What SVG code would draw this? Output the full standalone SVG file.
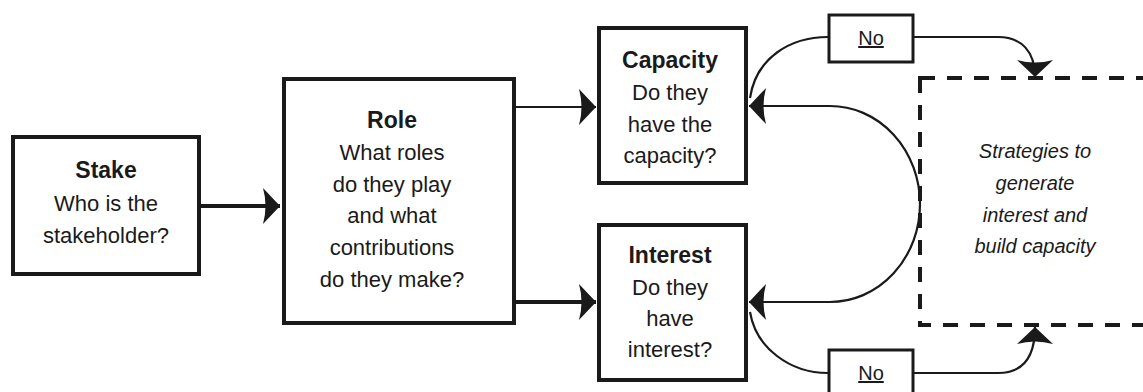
<svg xmlns="http://www.w3.org/2000/svg" width="1143" height="392" viewBox="0 0 1143 392">
<style>
.box{fill:#fff;stroke:#1a1a1a;stroke-width:4}
.nobox{fill:#fff;stroke:#1a1a1a;stroke-width:3}
.t{font-family:"Liberation Sans",Arial,sans-serif;font-size:22px;fill:#1a1a1a;text-anchor:middle}
.h{font-weight:bold;font-size:23px}
.it{font-style:italic;font-size:20px}
.no{font-size:20px;text-decoration:underline}
.ln{fill:none;stroke:#1a1a1a}
</style>
<defs>
<marker id="ah" markerUnits="userSpaceOnUse" markerWidth="22" markerHeight="42" viewBox="-19 -21 21 42" refX="0" refY="0" orient="auto-start-reverse">
<path d="M0,0 L-17,-18 Q-12,0 -17,18 Z" fill="#1a1a1a"/>
</marker>
</defs>
<g id="connectors">
<path class="ln" d="M201,206 L280,206" stroke-width="4" marker-end="url(#ah)"/>
<path class="ln" d="M516,107 L596,107" stroke-width="2.2" marker-end="url(#ah)"/>
<path class="ln" d="M516,302 L596,302" stroke-width="4" marker-end="url(#ah)"/>
<path class="ln" d="M749,106 L830,106 A90 98 0 0 1 920,204 A90 98 0 0 1 830,302 L749,302" stroke-width="2.2" marker-start="url(#ah)" marker-end="url(#ah)"/>
<path class="ln" d="M828,37 C790,37 756,58 750,98" stroke-width="2.2"/>
<path class="ln" d="M914,37 L998,37 C1022,37 1035,52 1035,77" stroke-width="2.2" marker-end="url(#ah)"/>
<path class="ln" d="M750,312 C756,348 790,373 828,373" stroke-width="2.2"/>
<path class="ln" d="M914,373 L998,373 C1022,373 1035,358 1035,327" stroke-width="2.2" marker-end="url(#ah)"/>
</g>
<g id="stake">
<rect class="box" x="13" y="137" width="186" height="137"/>
<text class="t h" x="106" y="178">Stake</text>
<text class="t" x="106" y="211">Who is the</text>
<text class="t" x="106" y="243">stakeholder?</text>
</g>
<g id="role">
<rect class="box" x="284" y="79" width="230" height="244"/>
<text class="t h" x="392" y="128">Role</text>
<text class="t" x="392" y="160">What roles</text>
<text class="t" x="392" y="192">do they play</text>
<text class="t" x="392" y="223">and what</text>
<text class="t" x="392" y="255">contributions</text>
<text class="t" x="392" y="287">do they make?</text>
</g>
<g id="capacity">
<rect class="box" x="599" y="28" width="147" height="155"/>
<text class="t h" x="670" y="68">Capacity</text>
<text class="t" x="670" y="100">Do they</text>
<text class="t" x="670" y="132">have the</text>
<text class="t" x="670" y="163">capacity?</text>
</g>
<g id="interest">
<rect class="box" x="599" y="225" width="147" height="155"/>
<text class="t h" x="670" y="263">Interest</text>
<text class="t" x="670" y="295">Do they</text>
<text class="t" x="670" y="326">have</text>
<text class="t" x="670" y="357">interest?</text>
</g>
<g id="no-top">
<rect class="nobox" x="829" y="15" width="84" height="47"/>
<text class="t no" x="871" y="45">No</text>
</g>
<g id="no-bottom">
<rect class="nobox" x="829" y="350" width="84" height="47"/>
<text class="t no" x="871" y="380">No</text>
</g>
<g id="strategies">
<rect x="920" y="78" width="260" height="247" fill="none" stroke="#1a1a1a" stroke-width="4" stroke-dasharray="15 12"/>
<text class="t it" x="1035" y="158">Strategies to</text>
<text class="t it" x="1035" y="190">generate</text>
<text class="t it" x="1035" y="222">interest and</text>
<text class="t it" x="1035" y="253">build capacity</text>
</g>
</svg>
